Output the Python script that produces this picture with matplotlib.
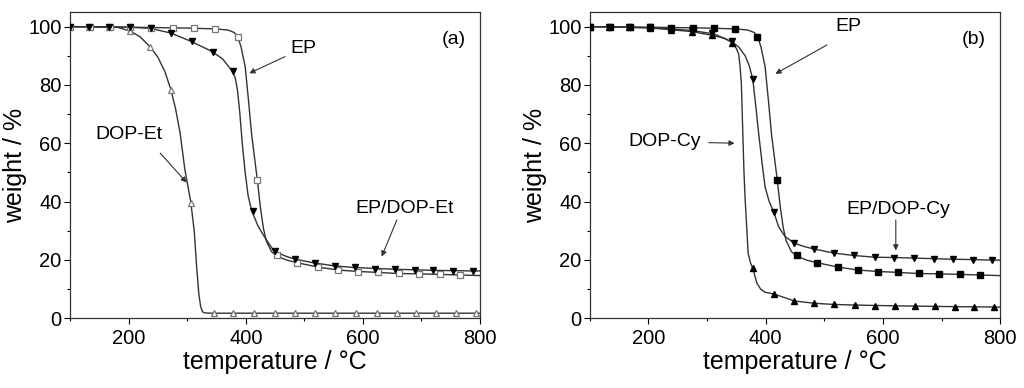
import matplotlib
matplotlib.use('Agg')
import matplotlib.pyplot as plt
from matplotlib.ticker import MultipleLocator

plt.rcParams['font.family'] = ['Liberation Sans', 'DejaVu Sans']

# EP (same curve in both panels)
ep_line_T = [100, 200, 300, 350, 370, 380, 386, 392, 399, 405, 410, 415, 420, 425, 430, 435,
             444, 453, 470, 488, 524, 558, 592, 626, 661, 696, 732, 766, 800]
ep_line_w = [100, 99.8, 99.5, 99.2, 98.8, 98.0, 96.8, 93.0, 86.3, 74.0, 63.0, 55.0, 47.0, 38.0,
             31.0, 26.5, 22.8, 21.3, 19.9, 19.0, 17.5, 16.5, 16.0, 15.7, 15.3, 15.2, 15.0, 14.8, 14.6]
ep_mark_T = [100, 134, 168, 202, 238, 276, 312, 348, 386, 420, 453, 488, 523, 557, 591, 626,
             661, 696, 731, 765]
ep_mark_w = [100, 100, 100, 99.7, 99.6, 99.5, 99.4, 99.2, 96.5, 47.5, 21.5, 18.8, 17.4, 16.4,
             16.0, 15.7, 15.5, 15.2, 15.0, 14.8]

# panel (a)
epet_line_T = [100, 200, 237, 272, 306, 342, 360, 376, 382, 386, 390, 394, 399, 404, 410, 420,
               430, 447, 465, 481, 515, 549, 583, 617, 651, 686, 720, 754, 788, 800]
epet_line_w = [100, 99.8, 99.4, 97.8, 95.0, 91.5, 89.0, 85.0, 82.5, 78.0, 70.0, 60.0, 50.0, 42.0,
               37.0, 32.0, 28.5, 23.3, 21.5, 20.4, 19.0, 18.0, 17.4, 17.1, 16.8, 16.6, 16.4, 16.3,
               16.2, 16.2]
epet_mark_T = [100, 133, 167, 202, 238, 273, 308, 344, 379, 413, 450, 484, 518, 552, 587, 621,
               655, 689, 720, 754, 788]
epet_mark_w = [100, 100, 100, 99.8, 99.5, 97.7, 94.9, 91.4, 84.8, 36.6, 23.2, 20.3, 18.9, 17.9,
               17.4, 17.0, 16.8, 16.6, 16.4, 16.3, 16.2]

et_line_T = [100, 180, 202, 219, 237, 250, 262, 272, 280, 288, 296, 306, 312, 316, 320, 323, 326,
             330, 342, 800]
et_line_w = [100, 99.8, 98.5, 96.6, 93.0, 89.5, 84.5, 78.5, 72.0, 63.4, 51.0, 40.0, 30.0, 18.0,
             8.0, 4.0, 2.2, 1.8, 1.7, 1.7]
et_mark_T = [100, 133, 167, 202, 237, 272, 306, 345, 379, 414, 450, 484, 518, 552, 588, 624,
             658, 691, 725, 759, 793]
et_mark_w = [100, 100, 99.8, 98.5, 93.1, 78.3, 39.5, 1.7, 1.7, 1.7, 1.7, 1.7, 1.7, 1.7, 1.7, 1.7,
             1.7, 1.7, 1.7, 1.7, 1.7]

# panel (b)
epcy_line_T = [100, 200, 240, 276, 312, 342, 354, 365, 372, 378, 383, 388, 394, 399, 406, 414,
               422, 433, 449, 465, 483, 517, 550, 586, 619, 653, 688, 720, 753, 786, 800]
epcy_line_w = [100, 99.6, 99.2, 98.6, 97.5, 94.8, 93.0, 90.0, 86.5, 82.0, 73.0, 63.4, 53.0, 45.0,
               40.0, 36.3, 31.4, 28.0, 25.7, 24.6, 23.7, 22.3, 21.5, 20.9, 20.8, 20.6, 20.4, 20.2,
               20.1, 19.9, 19.9]
epcy_mark_T = [100, 132, 167, 202, 239, 274, 309, 343, 378, 414, 449, 483, 517, 550, 586, 619,
               653, 688, 720, 753, 786]
epcy_mark_w = [100, 100, 99.9, 99.7, 99.3, 98.8, 97.8, 95.2, 82.0, 36.3, 25.7, 23.7, 22.3, 21.5,
               20.9, 20.8, 20.6, 20.4, 20.3, 20.1, 19.9]

cy_line_T = [100, 200, 274, 309, 330, 343, 350, 354, 356, 358.5, 361, 363, 365, 368, 370, 374,
             378, 385, 392, 399, 414, 449, 483, 517, 552, 600, 700, 800]
cy_line_w = [100, 99.6, 98.3, 97.0, 96.0, 94.5, 92.5, 90.5, 87.0, 80.6, 63.4, 50.0, 40.6, 30.0,
             22.3, 19.0, 17.1, 12.0, 9.8, 8.9, 8.3, 5.9, 5.1, 4.7, 4.5, 4.3, 4.0, 3.8]
cy_mark_T = [100, 132, 167, 202, 239, 274, 309, 343, 378, 414, 449, 483, 517, 552, 587, 621,
             655, 689, 723, 756, 790]
cy_mark_w = [100, 100, 99.9, 99.6, 99.0, 98.3, 97.0, 94.5, 17.1, 8.3, 5.9, 5.1, 4.7, 4.5, 4.3,
             4.3, 4.1, 4.0, 3.9, 3.9, 3.8]

LINE = '#333333'
GREY = '#777777'


def series(ax, lt, lw, mt, mw, marker, filled):
    ax.plot(lt, lw, color=LINE, lw=1.0, zorder=2)
    if filled:
        ax.plot(mt, mw, ls='none', marker=marker, ms=5, mfc='black', mec='black', zorder=3)
    else:
        ax.plot(mt, mw, ls='none', marker=marker, ms=5, mfc='white', mec=GREY, mew=0.9, zorder=3)


def note(ax, text, xy, xytext, textpos):
    ax.annotate('', xy=xy, xytext=xytext,
                arrowprops=dict(arrowstyle='-|>', color='#333333', lw=0.8,
                                mutation_scale=8, shrinkA=0, shrinkB=0))
    ax.text(textpos[0], textpos[1], text, ha='center', va='center', fontsize=14)


def setup(ax, tag):
    ax.set_xlim(100, 800)
    ax.set_ylim(0, 105)
    ax.xaxis.set_major_locator(MultipleLocator(200))
    ax.xaxis.set_minor_locator(MultipleLocator(100))
    ax.yaxis.set_major_locator(MultipleLocator(20))
    ax.yaxis.set_minor_locator(MultipleLocator(10))
    ax.tick_params(which='major', length=4, width=0.8, labelsize=14.5, pad=2)
    ax.tick_params(axis='x', which='major', pad=4)
    ax.tick_params(which='minor', length=2.5, width=0.8)
    for s in ax.spines.values():
        s.set_linewidth(0.9)
        s.set_color('#333333')
    ax.set_xlabel('temperature / °C', fontsize=18, labelpad=1)
    ax.set_ylabel('weight / %', fontsize=18, labelpad=1)
    ax.text(0.935, 0.91, tag, transform=ax.transAxes, ha='center', va='center', fontsize=14)


def main():
    fig = plt.figure(figsize=(10.24, 3.88), dpi=100)
    ax1 = fig.add_axes([0.0684, 0.180, 0.4004, 0.789])
    ax2 = fig.add_axes([0.576, 0.180, 0.4007, 0.789])

    series(ax1, et_line_T, et_line_w, et_mark_T, et_mark_w, '^', False)
    series(ax1, ep_line_T, ep_line_w, ep_mark_T, ep_mark_w, 's', False)
    series(ax1, epet_line_T, epet_line_w, epet_mark_T, epet_mark_w, 'v', True)
    setup(ax1, '(a)')
    note(ax1, 'EP', (406, 84), (467, 89.7), (498, 92.6))
    note(ax1, 'DOP-Et', (299, 46.5), (254, 56.6), (200, 62.9))
    note(ax1, 'EP/DOP-Et', (632, 21.1), (658, 33.7), (672, 37.7))

    series(ax2, cy_line_T, cy_line_w, cy_mark_T, cy_mark_w, '^', True)
    series(ax2, epcy_line_T, epcy_line_w, epcy_mark_T, epcy_mark_w, 'v', True)
    series(ax2, ep_line_T, ep_line_w, ep_mark_T, ep_mark_w, 's', True)
    setup(ax2, '(b)')
    note(ax2, 'EP', (416.5, 83.8), (504.5, 93.7), (541.5, 100))
    note(ax2, 'DOP-Cy', (347, 60), (303, 60.2), (227, 60.6))
    note(ax2, 'EP/DOP-Cy', (622, 23.2), (622, 33.7), (627, 37.4))

    fig.savefig('out.png', dpi=100)


if __name__ == '__main__':
    main()
